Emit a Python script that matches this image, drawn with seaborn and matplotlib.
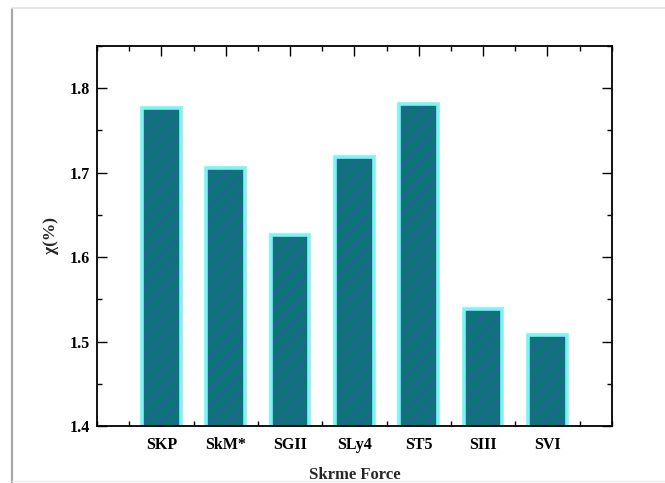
import matplotlib
matplotlib.use("Agg")
import matplotlib.pyplot as plt
import pandas as pd
import seaborn as sns
from matplotlib.lines import Line2D
from matplotlib.ticker import MultipleLocator

# Skyrme forces and chi values
forces = ["SKP", "SkM*", "SGII", "SLy4", "ST5", "SIII", "SVI"]
chi = [1.777, 1.706, 1.626, 1.718, 1.781, 1.538, 1.508]

df = pd.DataFrame({"force": forces, "chi": chi})

sns.set_theme(style="ticks")
plt.rcParams["font.family"] = ["Liberation Serif", "DejaVu Serif"]
plt.rcParams["font.weight"] = "bold"
plt.rcParams["hatch.linewidth"] = 1.0

fig = plt.figure(figsize=(6.65, 4.83), dpi=100)
ax = fig.add_axes([0.146, 0.118, 0.774, 0.787])

# filled, hatched bars
sns.barplot(
    data=df, x="force", y="chi", color="#0d7479", saturation=1,
    width=0.6, edgecolor="#3a52b0", linewidth=0, hatch="//", ax=ax,
)
# light cyan outline on top
sns.barplot(
    data=df, x="force", y="chi", fill=False, width=0.6,
    edgecolor="#7ff3f3", linewidth=2.6, ax=ax,
)
for p in ax.patches[len(forces):]:
    p.set_facecolor("none")
    p.set_hatch(None)

ax.set_xlim(-1, 7)
ax.set_ylim(1.4, 1.85)
ax.yaxis.set_major_locator(MultipleLocator(0.1))
ax.yaxis.set_minor_locator(MultipleLocator(0.05))
ax.xaxis.set_minor_locator(MultipleLocator(0.5))
ax.set_xticks(range(len(forces)))
ax.set_xticklabels(forces)

ax.tick_params(which="both", direction="in", top=True, right=True,
               colors="black", width=1.0, labelsize=11.5)
ax.tick_params(axis="y", pad=5)
ax.tick_params(axis="x", pad=8)
ax.tick_params(which="major", length=7)
ax.tick_params(which="minor", length=3.5)
for s in ax.spines.values():
    s.set_linewidth(1.3)
    s.set_color("black")

ax.set_xlabel("Skrme Force", fontsize=12, fontweight="bold", labelpad=10)
ax.set_ylabel("χ(%)", fontsize=12.5, fontweight="bold", labelpad=8)

# grey page frame seen around the original figure
fig.add_artist(Line2D([12 / 665, 12 / 665], [0, 1 - 9 / 483],
                      transform=fig.transFigure, color="#a8a8a8", lw=1.6))
fig.add_artist(Line2D([12 / 665, 1], [1 - 8 / 483, 1 - 8 / 483],
                      transform=fig.transFigure, color="#e0e0e0", lw=1.2))
fig.add_artist(Line2D([12 / 665, 1], [2 / 483, 2 / 483],
                      transform=fig.transFigure, color="#ececec", lw=1.0))

fig.savefig("out.png", dpi=100)
